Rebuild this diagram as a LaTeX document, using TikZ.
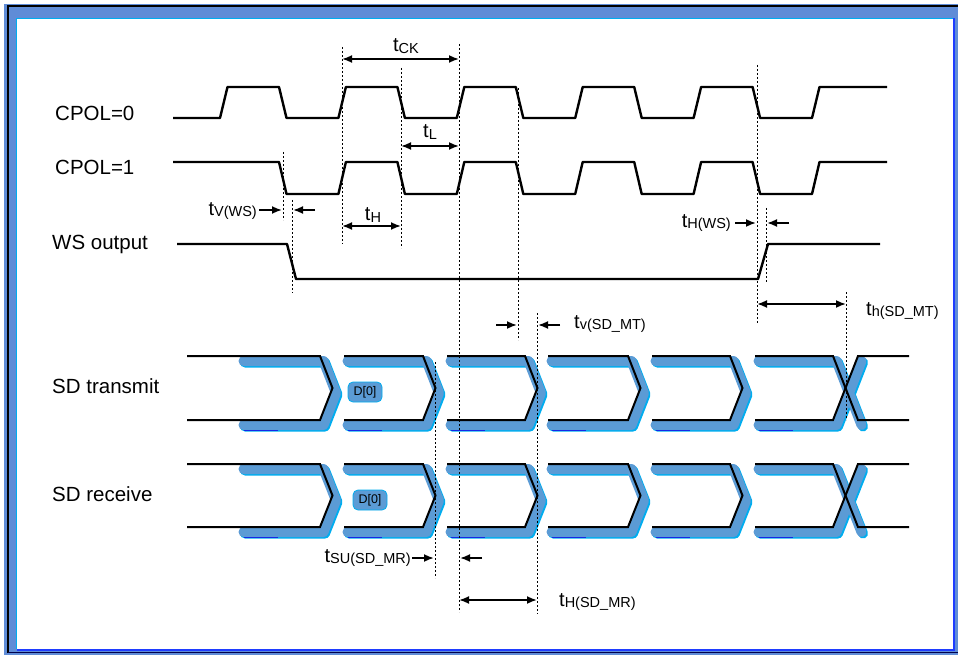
\documentclass[tikz,border=0pt]{standalone}
\usepackage{fontspec}
\setmainfont{Liberation Sans}
\usetikzlibrary{arrows.meta}
\definecolor{sdblue}{RGB}{91,155,213}
\definecolor{framebl}{RGB}{95,140,215}
\definecolor{brightbl}{RGB}{30,60,255}
\definecolor{dotbl}{RGB}{20,40,230}
\newcommand{\tlabel}[1]{{\fontsize{20}{21}\selectfont t}{\fontsize{14.5}{15}\selectfont\raisebox{-1.5pt}{#1}}}
\begin{document}
\begin{tikzpicture}[x=1pt,y=-1pt,
  sig/.style={line width=2.4pt, line join=round},
  sdline/.style={line width=2pt},
  guide/.style={line width=0.9pt, dash pattern=on 2pt off 2pt},
  dim/.style={line width=1.8pt, {Latex[length=10pt,width=8pt]}-{Latex[length=10pt,width=8pt]}},
  pointer/.style={line width=1.8pt, -{Latex[length=10pt,width=8pt]}},
  shade/.style={line width=10pt, sdblue, line cap=round, line join=round},
  fringe/.style={line width=10pt, cyan, line cap=round, line join=round},
  lbl/.style={font=\fontsize{20.5}{25}\selectfont, anchor=west, inner sep=0pt},
  tlbl/.style={inner sep=0pt},
  blob/.style={fill=sdblue, draw=cyan, line width=0.8pt, rounded corners=5pt, minimum width=34pt, minimum height=20pt, inner sep=1pt, font=\fontsize{12.5}{12.5}\selectfont}]

\useasboundingbox (0,0) rectangle (958,655);

% frame
\fill[framebl] (4,4) rectangle (958,655);
\fill[white] (17,19) rectangle (953,649);
\draw[black, line width=1.5pt] (8,653) -- (8,6) -- (958,6);
\draw[cyan, line width=1.5pt] (16.5,649) -- (16.5,18.5) -- (953,18.5);
\draw[brightbl, line width=2pt] (17,650) -- (954,650) -- (954,18);
\draw[black!70!blue, line width=1pt] (8,652.5) -- (958,652.5);

% signal names
\node[lbl] (cpol0) at (55,113) {CPOL=0};
\node[lbl] (cpol1) at (55,167) {CPOL=1};
\node[lbl] (ws) at (52,244) {WS output};
\node[lbl] (sdt) at (52,386) {SD transmit};
\node[lbl] (sdr) at (52,494) {SD receive};

% clocks
\draw[sig] (173,118) -- (220,118) -- (227.5,87) -- (279,87) -- (286.5,118)
  -- (338.4,118) -- (345.9,87) -- (397.4,87) -- (404.9,118)
  -- (456.8,118) -- (464.3,87) -- (515.8,87) -- (523.3,118)
  -- (575.2,118) -- (582.7,87) -- (634.2,87) -- (641.7,118)
  -- (693.6,118) -- (701.1,87) -- (752.6,87) -- (760.1,118)
  -- (812,118) -- (819.5,87) -- (887,87);
\draw[sig] (173,162) -- (279,162) -- (286.5,194)
  -- (338.4,194) -- (345.9,162) -- (397.4,162) -- (404.9,194)
  -- (456.8,194) -- (464.3,162) -- (515.8,162) -- (523.3,194)
  -- (575.2,194) -- (582.7,162) -- (634.2,162) -- (641.7,194)
  -- (693.6,194) -- (701.1,162) -- (752.6,162) -- (760.1,194)
  -- (812,194) -- (819.5,162) -- (887,162);
% WS
\draw[sig] (177,244) -- (287,244) -- (296,279) -- (758,279) -- (768,244) -- (880,244);

% SD lanes
\foreach \T/\M/\B in {356/388/420, 464/495.5/527} {
  % shadows
  \draw[fringe, shift={(5,6.5)}] (240,\T) -- (320,\T) -- (332.5,\M) -- (320,\B) -- (240,\B);
  \draw[shade, shift={(3.5,5)}] (240,\T) -- (320,\T) -- (332.5,\M) -- (320,\B) -- (240,\B);
  \foreach \s/\e in {344/423, 447/525, 548/628, 652/730} {
    \draw[fringe, shift={(5,6.5)}] (\s,\T) -- (\e,\T) -- (\e+12.5,\M) -- (\e,\B) -- (\s,\B);
    \draw[shade, shift={(3.5,5)}] (\s,\T) -- (\e,\T) -- (\e+12.5,\M) -- (\e,\B) -- (\s,\B);
  }
  \draw[fringe, shift={(5,6.5)}] (755,\T) -- (833,\T) -- (858,\B) (755,\B) -- (833,\B) -- (858,\T);
  \draw[shade, shift={(3.5,5)}] (755,\T) -- (833,\T) -- (858,\B) (755,\B) -- (833,\B) -- (858,\T);
  \foreach \s in {240, 344, 447, 548, 652, 755} {
    \draw[dotbl, line width=1.3pt] (\s+4,\B+10.5) -- (\s+38,\B+10.5);
  }
  % black outlines
  \draw[sdline] (187,\T) -- (320,\T) -- (332.5,\M) -- (320,\B) -- (187,\B);
  \foreach \s/\e in {344/423, 447/525, 548/628, 652/730} {
    \draw[sdline] (\s,\T) -- (\e,\T) -- (\e+12.5,\M) -- (\e,\B) -- (\s,\B);
  }
  \draw[sdline] (755,\T) -- (833,\T) -- (858,\B) -- (909,\B);
  \draw[sdline] (755,\B) -- (833,\B) -- (858,\T) -- (909,\T);
}
\node[blob] (d0t) at (365,392) {D[0]};
\node[blob] (d0r) at (370,500) {D[0]};

% guide lines
\foreach \n/\x/\a/\b in {1/283/152/220, 2/292/200/293, 3/342/47/244, 4/401/68/248,
    5/459/44/612, 6/518/88/340, 7/537/313/614, 8/435/362/578, 9/757/65/323,
    10/766/208/282, 11/846/292/420} {
  \coordinate (g\n t) at (\x,\a);
  \coordinate (g\n b) at (\x,\b);
  \draw[guide] (g\n t) -- (g\n b);
}

% tCK
\coordinate (ck1) at (342,59); \coordinate (ck2) at (459,59);
\draw[dim] (ck1) -- (ck2);
\node[tlbl] (tck) at (406,46) {\tlabel{CK}};
% tL
\coordinate (l1) at (401,146); \coordinate (l2) at (459,146);
\draw[dim] (l1) -- (l2);
\node[tlbl] (tl) at (430,132) {\tlabel{L}};
% tH
\coordinate (h1) at (342,226); \coordinate (h2) at (401,226);
\draw[dim] (h1) -- (h2);
\node[tlbl] (th) at (373,215) {\tlabel{H}};
% tV(WS)
\node[tlbl, anchor=east] (tvws) at (257,211) {\tlabel{V(WS)}};
\coordinate (vw1) at (259,210); \coordinate (vw2) at (282,210);
\coordinate (vw3) at (315,210); \coordinate (vw4) at (293,210);
\draw[pointer] (vw1) -- (vw2);
\draw[pointer] (vw3) -- (vw4);
% tH(WS)
\node[tlbl, anchor=east] (thws) at (731,223) {\tlabel{H(WS)}};
\coordinate (hw1) at (735,223); \coordinate (hw2) at (756,223);
\coordinate (hw3) at (789,223); \coordinate (hw4) at (767,223);
\draw[pointer] (hw1) -- (hw2);
\draw[pointer] (hw3) -- (hw4);
% th(SD_MT)
\coordinate (hm1) at (757,304); \coordinate (hm2) at (846,304);
\draw[dim] (hm1) -- (hm2);
\node[tlbl, anchor=west] (thmt) at (866,311) {\tlabel{h(SD\_MT)}};
% tv(SD_MT)
\coordinate (vm1) at (496,325); \coordinate (vm2) at (517,325);
\coordinate (vm3) at (560,325); \coordinate (vm4) at (538,325);
\draw[pointer] (vm1) -- (vm2);
\draw[pointer] (vm3) -- (vm4);
\node[tlbl, anchor=west] (tvmt) at (574,324) {\tlabel{v(SD\_MT)}};
% tSU(SD_MR)
\node[tlbl, anchor=east] (tsumr) at (411,558) {\tlabel{SU(SD\_MR)}};
\coordinate (su1) at (412,558); \coordinate (su2) at (434,558);
\coordinate (su3) at (482,558); \coordinate (su4) at (460,558);
\draw[pointer] (su1) -- (su2);
\draw[pointer] (su3) -- (su4);
% tH(SD_MR)
\coordinate (hr1) at (459,600); \coordinate (hr2) at (537,600);
\draw[dim] (hr1) -- (hr2);
\node[tlbl, anchor=west] (thmr) at (559,602) {\tlabel{H(SD\_MR)}};
\end{tikzpicture}
\end{document}
